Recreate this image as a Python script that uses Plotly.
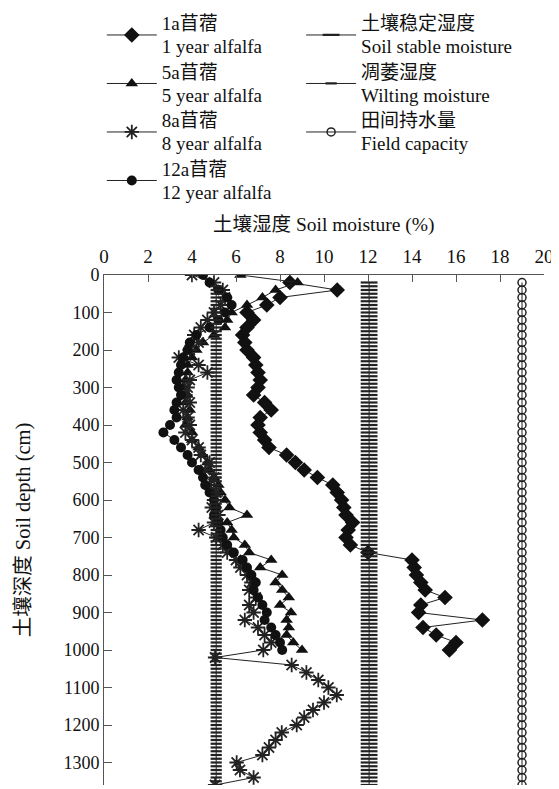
import plotly.graph_objects as go

# ---------------- data ----------------
depth_1a = list(range(20, 1001, 20))
moist_1a = [8.45, 10.6, 8.0, 7.4, 6.5, 6.8, 6.5, 6.3, 6.4, 6.5,
            6.8, 6.9, 7.0, 7.1, 7.0, 6.8, 7.3, 7.6, 7.1, 7.0,
            7.1, 7.3, 7.5, 8.3, 8.7, 9.1, 9.7, 10.4, 10.6, 10.8,
            10.9, 11.0, 11.3, 11.1, 11.0, 11.2, 12.0, 14.0, 14.1, 14.2,
            14.4, 14.6, 15.5, 14.4, 14.3, 17.2, 14.5, 15.1, 16.0, 15.7]

depth_5a = list(range(0, 1001, 20))
moist_5a = [6.2, 8.8, 7.8, 7.2, 6.5, 5.8, 5.6, 5.5, 5.0, 4.5,
            4.2, 4.0, 3.8, 3.8, 3.7, 3.6, 3.8, 3.7, 3.9, 3.8,
            3.7, 4.0, 4.0, 4.3, 4.5, 4.7, 4.8, 5.0, 5.2, 5.3,
            5.5, 5.7, 6.5, 5.6, 5.8, 5.9, 6.4, 6.6, 7.6, 7.1,
            8.1, 7.8, 8.1, 8.4, 8.0, 8.5, 8.3, 8.4, 8.3, 8.6, 9.0]

depth_8a = list(range(0, 1361, 20))
moist_8a = [4.0, 5.0, 5.4, 5.5, 5.3, 5.0, 4.7, 4.4, 4.1, 4.3,
            3.9, 3.4, 4.3, 4.7, 3.9, 3.8, 3.7, 3.9, 3.6, 3.8,
            3.9, 3.7, 4.0, 4.3, 4.4, 4.8, 4.6, 5.0, 4.8, 5.1,
            5.0, 4.9, 5.2, 5.0, 4.3, 5.1, 5.4, 5.6, 6.0, 6.2,
            6.5, 6.7, 6.6, 6.9, 6.6, 6.8, 6.4, 7.0, 7.3, 7.6,
            7.24, 5.05, 8.53, 9.2, 9.74, 10.2, 10.58, 10.0, 9.5, 9.1,
            8.76, 8.08, 7.8, 7.5, 7.2, 6.03, 6.18, 6.8, 5.05]

depth_12a = list(range(0, 1001, 20))
moist_12a = [4.5, 4.8, 5.2, 5.6, 5.8, 5.5, 5.2, 4.8, 4.2, 3.9,
             3.8, 3.6, 3.5, 3.4, 3.3, 3.4, 3.5, 3.3, 3.2, 3.3,
             3.0, 2.7, 3.2, 3.5, 3.8, 4.0, 4.3, 4.5, 4.6, 4.8,
             5.0, 5.1, 5.0, 5.2, 5.3, 5.4, 5.6, 5.9, 6.3, 6.5,
             6.7, 6.9, 6.8, 7.0, 7.2, 7.4, 7.3, 7.6, 7.8, 8.0, 8.1]

depth_stable = list(range(20, 1361, 10))
stable_value = 12.05
depth_wilting = list(range(30, 1361, 10))
wilting_value = 5.1
depth_field = list(range(20, 1361, 20))
field_value = 19.0

x_ticks = list(range(0, 21, 2))
y_ticks = list(range(0, 1301, 100))

legend_cn = ["1a苜蓿", "5a苜蓿", "8a苜蓿", "12a苜蓿", "土壤稳定湿度", "凋萎湿度", "田间持水量"]
legend_en = ["1 year alfalfa", "5 year alfalfa", "8 year alfalfa", "12 year alfalfa",
             "Soil stable moisture", "Wilting moisture", "Field capacity"]

FONT = "Liberation Serif, Noto Sans CJK SC, serif"
BLACK = "#111111"


def lname(i):
    return ("<span style='font-size:19px'>%s</span><br><span style='font-size:19px'>%s</span>"
            % (legend_cn[i], legend_en[i]))


fig = go.Figure()
line = dict(color="#222222", width=1)

fig.add_trace(go.Scatter(x=moist_1a, y=depth_1a, mode="lines+markers", name=lname(0),
                         line=line, marker=dict(symbol="diamond", size=12, color=BLACK),
                         legend="legend"))
fig.add_trace(go.Scatter(x=moist_5a, y=depth_5a, mode="lines+markers", name=lname(1),
                         line=line, marker=dict(symbol="triangle-up", size=11, color=BLACK),
                         legend="legend"))
fig.add_trace(go.Scatter(x=moist_8a, y=depth_8a, mode="lines+markers", name=lname(2),
                         line=line, marker=dict(symbol="asterisk-open", size=12,
                                                line=dict(color=BLACK, width=1.8)),
                         legend="legend"))
fig.add_trace(go.Scatter(x=moist_12a, y=depth_12a, mode="lines+markers", name=lname(3),
                         line=line, marker=dict(symbol="circle", size=10, color=BLACK),
                         legend="legend"))
fig.add_trace(go.Scatter(x=[stable_value] * len(depth_stable), y=depth_stable,
                         mode="lines+markers", name=lname(4), line=line,
                         marker=dict(symbol="line-ew-open", size=12,
                                     line=dict(color=BLACK, width=2.2)),
                         legend="legend2"))
fig.add_trace(go.Scatter(x=[wilting_value] * len(depth_wilting), y=depth_wilting,
                         mode="lines+markers", name=lname(5), line=line,
                         marker=dict(symbol="line-ew-open", size=8,
                                     line=dict(color=BLACK, width=2.2)),
                         legend="legend2"))
fig.add_trace(go.Scatter(x=[field_value] * len(depth_field), y=depth_field,
                         mode="lines+markers", name=lname(6), line=line,
                         marker=dict(symbol="circle-open", size=8,
                                     line=dict(color=BLACK, width=1.5)),
                         legend="legend2"))

leg_common = dict(font=dict(family=FONT, size=17.5, color=BLACK), bgcolor="rgba(0,0,0,0)",
                  yanchor="top", xanchor="left", itemwidth=50, tracegroupgap=0)

# the page body adds an 8 px offset, so the figure is 8 px smaller than the window
fig.update_layout(
    width=551, height=781,
    margin=dict(l=96, r=15, t=267, b=4, autoexpand=False),
    paper_bgcolor="white", plot_bgcolor="white",
    font=dict(family=FONT, size=17, color=BLACK),
    showlegend=True,
    legend=dict(x=-0.005, y=1.528, **leg_common),
    legend2=dict(x=0.448, y=1.528, **leg_common),
    xaxis=dict(side="top", range=[0, 20], tickvals=x_ticks, showgrid=False, zeroline=False,
               showline=True, linecolor="#555555", linewidth=1, ticks="inside", ticklen=7,
               tickcolor="#555555", tickfont=dict(size=19), ticklabelstandoff=3,
               automargin=False),
    yaxis=dict(range=[1360, 0], tickvals=y_ticks, showgrid=False, zeroline=False,
               showline=True, linecolor="#555555", linewidth=1, ticks="inside", ticklen=8,
               tickcolor="#555555", tickfont=dict(size=18), automargin=False,
               title=dict(text="土壤深度 Soil depth (cm)", font=dict(size=20.5), standoff=27)),
)

fig.add_annotation(text="土壤湿度 Soil moisture (%)", xref="paper", yref="paper",
                   x=0.5, y=1 + (275 - 225) / 510, showarrow=False,
                   font=dict(size=19.5, family=FONT), xanchor="center", yanchor="middle")

fig.write_html("out.html")
